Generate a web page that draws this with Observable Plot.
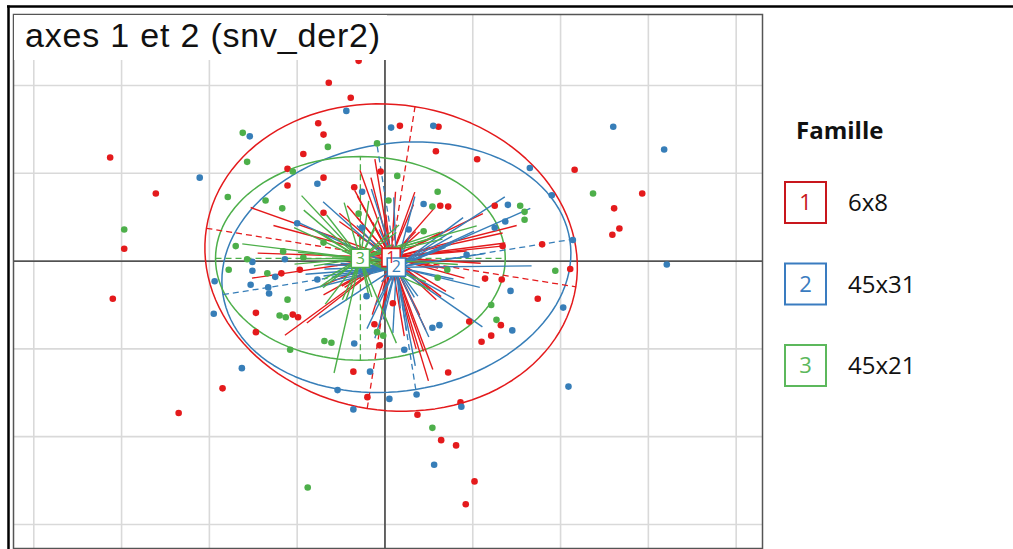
<!DOCTYPE html>
<html>
<head>
<meta charset="utf-8">
<script src="https://cdn.jsdelivr.net/npm/d3@7"></script>
<script src="https://cdn.jsdelivr.net/npm/@observablehq/plot@0.6"></script>
<style>
  body { margin: 0; background: #fff; }
  #wrap { position: relative; width: 1013px; height: 549px; overflow: hidden; background: #fff; }
  #plot { position: absolute; left: 0; top: 0; }
  #overlay { position: absolute; left: 0; top: 0; pointer-events: none; }
</style>
</head>
<body>
<div id="wrap"><div id="plot"></div></div>
<script>
// ---- data (grid step = 1) ----
const familyIds = ["1", "2", "3"];
const familyNames = ["6x8", "45x31", "45x21"];
const familyColors = ["#e41a1c", "#377eb8", "#4daf4a"];
const legendTitle = "Famille";
const chartTitle = "axes 1 et 2 (snv_der2)";

const redPts = [[-0.30,2.28],[-0.64,2.03],[-0.39,1.86],[-0.76,1.57],[-0.70,1.44],[0.17,1.54],[-0.93,1.22],[-3.13,1.18],
  [-1.11,1.05],[-0.70,0.95],[-1.11,0.86],[-2.61,0.77],[-0.05,1.02],[-0.35,0.84],[0.61,1.53],[0.58,1.25],[1.05,1.16],
  [2.16,1.04],[2.93,0.77],[-0.70,0.55],[-2.97,0.14],[-1.18,-0.14],[-0.97,-0.10],[-3.10,-0.43],[-1.47,-0.59],[-1.05,-0.61],
  [-0.99,-0.64],[-0.12,-0.72],[-1.47,-0.81],[-0.06,-0.96],[-0.36,-1.26],[0.63,0.63],[0.72,0.62],[1.25,0.63],[2.61,0.60],
  [2.67,0.37],[2.59,0.30],[1.79,0.19],[1.34,0.17],[2.11,-0.09],[1.14,-0.20],[1.33,-0.21],[1.74,-0.43],[0.09,-0.48],
  [0.96,-0.69],[1.32,-0.73],[1.21,-0.85],[1.10,-0.92],[0.72,-1.27],[-1.85,-1.45],[-2.35,-1.73],[-0.20,-1.55],[0.86,-1.61],
  [0.37,-1.75],[0.64,-2.04],[0.81,-2.10],[1.02,-2.51],[0.92,-2.77]];
const bluePts = [[-0.44,1.71],[0.07,1.52],[0.55,1.54],[-1.54,1.42],[-2.11,0.95],[-0.77,0.88],[-0.26,0.79],[1.65,1.06],
  [1.90,0.75],[2.60,1.53],[3.18,1.27],[-1.00,0.43],[-0.26,0.38],[-1.51,-0.01],[-1.14,0.02],[-1.51,-0.11],[-1.25,-0.18],
  [-1.94,-0.23],[-1.53,-0.27],[-0.77,-0.21],[-1.33,-0.30],[-1.32,-0.37],[-0.21,-0.40],[-1.95,-0.60],[-0.35,-0.94],
  [-1.63,-1.22],[-0.17,-1.26],[0.44,0.65],[1.40,0.64],[1.37,0.45],[1.25,0.38],[0.27,0.36],[2.14,0.24],[0.93,0.07],
  [3.21,-0.04],[1.43,-0.34],[2.03,-0.53],[1.45,-0.79],[0.54,-0.76],[0.62,-0.73],[0.22,-1.01],[2.09,-1.43],[-0.54,-1.47],
  [0.05,-1.57],[-0.36,-1.69],[0.36,-1.52],[0.87,-1.66],[0.56,-2.32]];
const greenPts = [[-0.65,1.30],[-1.62,1.46],[-1.57,1.13],[-1.05,1.02],[-1.79,0.73],[-0.09,1.34],[0.14,0.97],[0.60,0.79],
  [2.37,0.77],[-1.36,0.69],[-1.17,0.60],[0.04,0.69],[-0.30,0.54],[-2.97,0.36],[-1.70,0.17],[-0.70,0.21],[-1.16,0.11],
  [-1.57,0.02],[-0.93,0.04],[-1.78,-0.10],[-1.34,-0.14],[-1.11,-0.44],[-1.20,-0.62],[-1.13,-0.64],[-0.09,-0.81],
  [-0.02,-0.85],[-0.69,-0.91],[-0.61,-0.93],[-1.08,-1.01],[0.54,0.62],[1.54,0.63],[1.59,0.56],[1.59,0.47],[0.44,0.34],
  [1.94,-0.11],[0.60,-0.19],[0.71,-0.10],[1.21,-0.50],[1.27,-0.67],[0.54,-1.90],[-0.88,-2.58]];

// group centres (label positions) and ellipse shapes
const centreX = [0.07, 0.13, -0.28];
const centreY = [0.04, -0.07, 0.03];
const ellipseA = [2.13, 2.00, 1.65];      // semi-major
const ellipseB = [1.74, 1.41, 1.16];      // semi-minor
const ellipseAngle = [-9, 9, 0];          // degrees
const starSize = 0.5;

const gridXTicks = [-4, -3, -2, -1, 0, 1, 2, 3, 4];
const gridYTicks = [-3, -2, -1, 0, 1, 2];

// ---- build tables ----
const groupPts = [redPts, bluePts, greenPts];
const points = [], stars = [], ellipses = [], ellAxes = [], centres = [];
familyIds.forEach((id, g) => {
  const col = familyColors[g], cx = centreX[g], cy = centreY[g];
  groupPts[g].forEach(([x, y]) => {
    points.push({x, y, col});
    stars.push({x1: cx, y1: cy, x2: cx + starSize * (x - cx), y2: cy + starSize * (y - cy), col});
  });
  const th = ellipseAngle[g] * Math.PI / 180, a = ellipseA[g], b = ellipseB[g];
  const ux = Math.cos(th), uy = Math.sin(th), vx = -Math.sin(th), vy = Math.cos(th);
  for (let k = 0; k <= 120; k++) {
    const t = k / 120 * 2 * Math.PI;
    ellipses.push({g: id, col, x: cx + a * Math.cos(t) * ux + b * Math.sin(t) * vx, y: cy + a * Math.cos(t) * uy + b * Math.sin(t) * vy});
  }
  ellAxes.push({x1: cx - a * ux, y1: cy - a * uy, x2: cx + a * ux, y2: cy + a * uy, col});
  ellAxes.push({x1: cx - b * vx, y1: cy - b * vy, x2: cx + b * vx, y2: cy + b * vy, col});
  centres.push({id, x: cx, y: cy, col});
});
const labelOrder = [centres[2], centres[0], centres[1]];

const chart = Plot.plot({
  width: 770, height: 549,
  marginLeft: 13, marginRight: 8, marginTop: 14, marginBottom: 1,
  x: {domain: [-4.231, 4.300], axis: null},
  y: {domain: [-3.274, 2.808], axis: null},
  color: {type: "identity"},
  marks: [
    Plot.gridX(gridXTicks, {stroke: "#d9d9d9", strokeOpacity: 1, strokeWidth: 1.6}),
    Plot.gridY(gridYTicks, {stroke: "#d9d9d9", strokeOpacity: 1, strokeWidth: 1.6}),
    Plot.ruleX([0], {stroke: "#222", strokeWidth: 1.3}),
    Plot.ruleY([0], {stroke: "#222", strokeWidth: 1.3}),
    Plot.line(ellipses, {x: "x", y: "y", z: "g", stroke: "col", strokeWidth: 1.5}),
    Plot.link(ellAxes, {x1: "x1", y1: "y1", x2: "x2", y2: "y2", stroke: "col", strokeWidth: 1.3, strokeDasharray: "6,4"}),
    Plot.link(stars, {x1: "x1", y1: "y1", x2: "x2", y2: "y2", stroke: "col", strokeWidth: 1.4}),
    Plot.dot(points, {x: "x", y: "y", fill: "col", r: 3.3}),
    Plot.dot(labelOrder, {x: "x", y: "y", symbol: "square", r: 10.3, fill: "white", stroke: "col", strokeWidth: 1.6}),
    Plot.text(labelOrder, {x: "x", y: "y", text: "id", fill: "col", fontSize: 16, fontFamily: "Open Sans, sans-serif"}),
    Plot.frame({stroke: "#555", strokeWidth: 1.5})
  ]
});
document.getElementById("plot").appendChild(chart);

// ---- overlay: outer frame, title box, legend ----
const svg = d3.select("#wrap").append("svg").attr("id", "overlay").attr("width", 1013).attr("height", 549);
svg.append("line").attr("x1", 7).attr("x2", 1013).attr("y1", 6.5).attr("y2", 6.5).attr("stroke", "#000").attr("stroke-width", 2.5);
svg.append("line").attr("x1", 8.5).attr("x2", 8.5).attr("y1", 5.5).attr("y2", 549).attr("stroke", "#000").attr("stroke-width", 2.5);
svg.append("rect").attr("x", 14).attr("y", 15).attr("width", 373).attr("height", 45).attr("fill", "#fff");
svg.append("text").attr("x", 25).attr("y", 47).attr("font-family", "Liberation Sans, Arial, sans-serif")
  .attr("font-size", 34).attr("letter-spacing", 0.8).attr("fill", "#111").text(chartTitle);

svg.append("text").attr("x", 796).attr("y", 139).attr("font-family", "Open Sans, sans-serif").attr("font-weight", 700)
  .attr("font-size", 24).attr("fill", "#111").text(legendTitle);
const legendColors = ["#c8171d", "#3a7cc0", "#5cb85c"];
familyIds.forEach((id, i) => {
  const yc = 202.5 + i * 81.5;
  svg.append("rect").attr("x", 785).attr("y", yc - 20.5).attr("width", 41).attr("height", 41)
    .attr("fill", "none").attr("stroke", legendColors[i]).attr("stroke-width", 2);
  svg.append("text").attr("x", 805.5).attr("y", yc).attr("dy", "0.36em").attr("text-anchor", "middle")
    .attr("font-family", "Open Sans, sans-serif").attr("font-size", 22).attr("fill", legendColors[i]).text(id);
  svg.append("text").attr("x", 848).attr("y", yc).attr("dy", "0.36em")
    .attr("font-family", "Open Sans, sans-serif").attr("font-size", 24).attr("fill", "#111").text(familyNames[i]);
});
</script>
</body>
</html>
